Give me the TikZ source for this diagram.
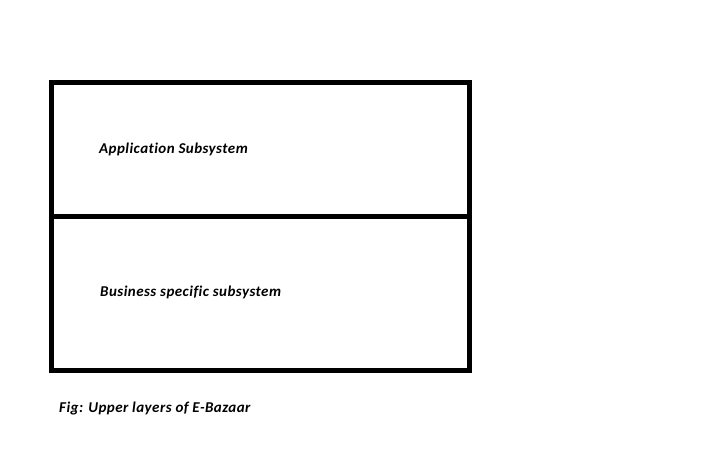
\documentclass[tikz,border=0pt]{standalone}
\usepackage{fontspec}
\setmainfont{Carlito}[Ligatures=NoCommon,LetterSpace=3]
\tikzset{layertext/.style={anchor=base west,inner sep=0pt,font=\fontsize{15}{17}\selectfont\bfseries\itshape}}
\begin{document}
\begin{tikzpicture}[x=1pt,y=-1pt,line cap=rect,line join=miter]
 \useasboundingbox (0,0) rectangle (703,449);
 \draw[line width=5pt] (51.5,82.5) rectangle (469.5,370.5);
 \draw[line width=5pt] (51.5,216.5)--(469.5,216.5);
 \node[layertext] (app) at (99,153.3) {Application Subsystem};
 \node[layertext] (bus) at (100,296) {Business specific subsystem};
 \node[layertext] (cap) at (59,412.7) {Fig: Upper layers of E-Bazaar};
\end{tikzpicture}
\end{document}
